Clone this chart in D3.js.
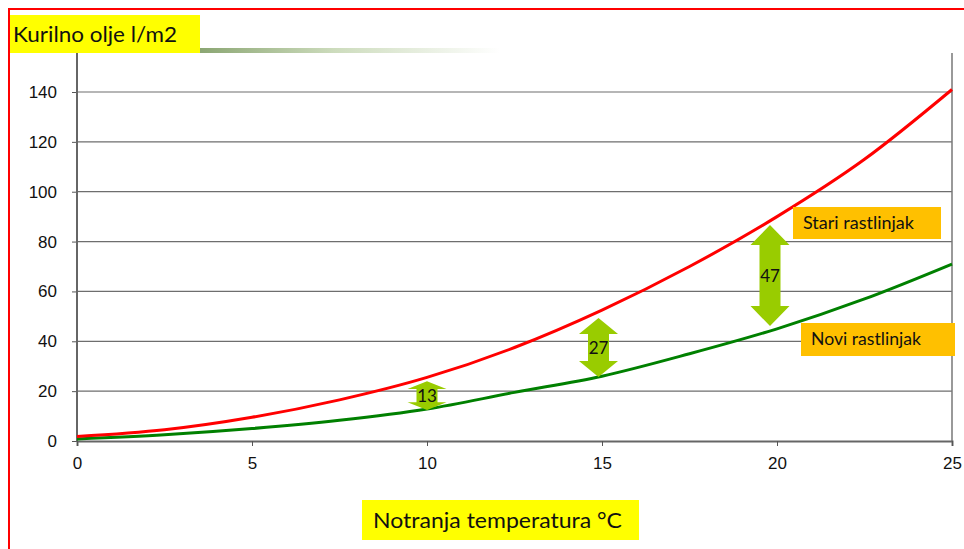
<!DOCTYPE html>
<html><head><meta charset="utf-8">
<script src="https://cdn.jsdelivr.net/npm/d3@7"></script>
<style>html,body{margin:0;padding:0;background:#fff;}svg{display:block;}</style>
</head><body>
<svg id="c" width="964" height="549"></svg>
<script>
// ---- data ----
const temps = [0, 2.5, 5, 7.5, 10, 12.5, 15, 17.5, 20, 22.5, 25];
const stariValues = [1.8, 4.5, 9.5, 16.5, 25.5, 37.5, 52.5, 70, 90, 113, 141];
const noviValues  = [0.8, 2.5, 5, 8.3, 12.8, 19.5, 26, 35, 45, 57, 71];
const yTicks = [0, 20, 40, 60, 80, 100, 120, 140];
const xTicks = [0, 5, 10, 15, 20, 25];
const diffX = [10, 14.9, 19.8];
const diffTop = [24, 49.3, 86.6];
const diffBottom = [12.4, 25.7, 46.1];
const diffLabels = ["13", "27", "47"];
const seriesNames = ["Stari rastlinjak", "Novi rastlinjak"];
const yTitle = "Kurilno olje l/m2";
const xTitle = "Notranja temperatura °C";

const svg = d3.select("#c");
const x = d3.scaleLinear().domain([0, 25]).range([77, 952]);
const y = d3.scaleLinear().domain([0, 140]).range([441, 92]);
const plotTop = 53;
const TF = "Lato, 'Open Sans', sans-serif";
const AF = "'Liberation Sans', Arial, sans-serif";

// red frame
svg.append("path").attr("d", "M9,560 L9,9 L980,9").attr("fill", "none").attr("stroke", "#ff0000").attr("stroke-width", 2);

// gradient bar
const defs = svg.append("defs");
const g1 = defs.append("linearGradient").attr("id", "gb");
g1.append("stop").attr("offset", "0").attr("stop-color", "#8ba673");
g1.append("stop").attr("offset", "0.45").attr("stop-color", "#cddcbd");
g1.append("stop").attr("offset", "1").attr("stop-color", "#ffffff");
svg.append("rect").attr("x", 200).attr("y", 48).attr("width", 300).attr("height", 5).attr("fill", "url(#gb)");

// gridlines
svg.append("g").selectAll("line").data(yTicks.slice(1)).join("line")
  .attr("x1", 77).attr("x2", 952).attr("y1", d => y(d)).attr("y2", d => y(d))
  .attr("stroke", "#6e6e6e").attr("stroke-width", 1.2);

// y axis
const ya = svg.append("g").attr("transform", "translate(77,0)")
  .call(d3.axisLeft(y).tickValues(yTicks).tickSize(5).tickPadding(15));
ya.select(".domain").remove();
ya.selectAll("line").attr("stroke", "#555");
ya.selectAll("text").attr("font-family", AF).attr("font-size", 17).attr("fill", "#111");
svg.append("line").attr("x1", 77).attr("x2", 77).attr("y1", plotTop).attr("y2", 441).attr("stroke", "#666").attr("stroke-width", 2);
svg.append("line").attr("x1", 952).attr("x2", 952).attr("y1", plotTop).attr("y2", 441).attr("stroke", "#777").attr("stroke-width", 1.5);

// x axis
const xa = svg.append("g").attr("transform", "translate(0,441)")
  .call(d3.axisBottom(x).tickValues(xTicks).tickSize(5).tickPadding(11));
xa.select(".domain").attr("stroke", "#666").attr("stroke-width", 2);
xa.selectAll("line").attr("stroke", "#555");
xa.selectAll("text").attr("font-family", AF).attr("font-size", 17).attr("fill", "#111");

// curves
const line = d3.line().x((d, i) => x(temps[i])).y(d => y(d)).curve(d3.curveMonotoneX);
svg.append("path").attr("d", line(noviValues)).attr("fill", "none").attr("stroke", "#008000").attr("stroke-width", 3);
svg.append("path").attr("d", line(stariValues)).attr("fill", "none").attr("stroke", "#ff0000").attr("stroke-width", 3);

// difference arrows
diffX.forEach((dx, i) => {
  const cx = x(dx), t = y(diffTop[i]), b = y(diffBottom[i]);
  const len = b - t, hh = Math.min(20, len * 0.27), hw = 19.5, sw = 10.5;
  const p = [[cx, t], [cx + hw, t + hh], [cx + sw, t + hh], [cx + sw, b - hh], [cx + hw, b - hh], [cx, b],
             [cx - hw, b - hh], [cx - sw, b - hh], [cx - sw, t + hh], [cx - hw, t + hh]];
  svg.append("path").attr("d", "M" + p.map(q => q.join(",")).join("L") + "Z").attr("fill", "#99cc00");
  svg.append("text").attr("x", cx).attr("y", (t + b) / 2 + 6).attr("text-anchor", "middle")
    .attr("font-family", TF).attr("font-size", 17).attr("fill", "#111").text(diffLabels[i]);
});

// legend labels
const lab = [{x: 793, y: 207, w: 148, h: 32, t: seriesNames[0], tl: 111}, {x: 801, y: 323, w: 154, h: 33, t: seriesNames[1], tl: 110}];
lab.forEach(l => {
  svg.append("rect").attr("x", l.x).attr("y", l.y).attr("width", l.w).attr("height", l.h).attr("fill", "#ffc000");
  svg.append("text").attr("x", l.x + 10).attr("y", l.y + 22).attr("font-family", TF)
    .attr("font-size", 17).attr("fill", "#111").attr("textLength", l.tl).attr("lengthAdjust", "spacingAndGlyphs").text(l.t);
});

// title boxes
svg.append("rect").attr("x", 10).attr("y", 15).attr("width", 190).attr("height", 38).attr("fill", "#ffff00");
svg.append("text").attr("x", 13).attr("y", 42).attr("font-family", TF)
  .attr("font-size", 21).attr("fill", "#111").attr("textLength", 164).attr("lengthAdjust", "spacingAndGlyphs").text(yTitle);
svg.append("rect").attr("x", 362).attr("y", 500).attr("width", 277).attr("height", 40).attr("fill", "#ffff00");
svg.append("text").attr("x", 373).attr("y", 528).attr("font-family", TF)
  .attr("font-size", 21).attr("fill", "#111").attr("textLength", 249).attr("lengthAdjust", "spacingAndGlyphs").text(xTitle);
</script>
</body></html>
